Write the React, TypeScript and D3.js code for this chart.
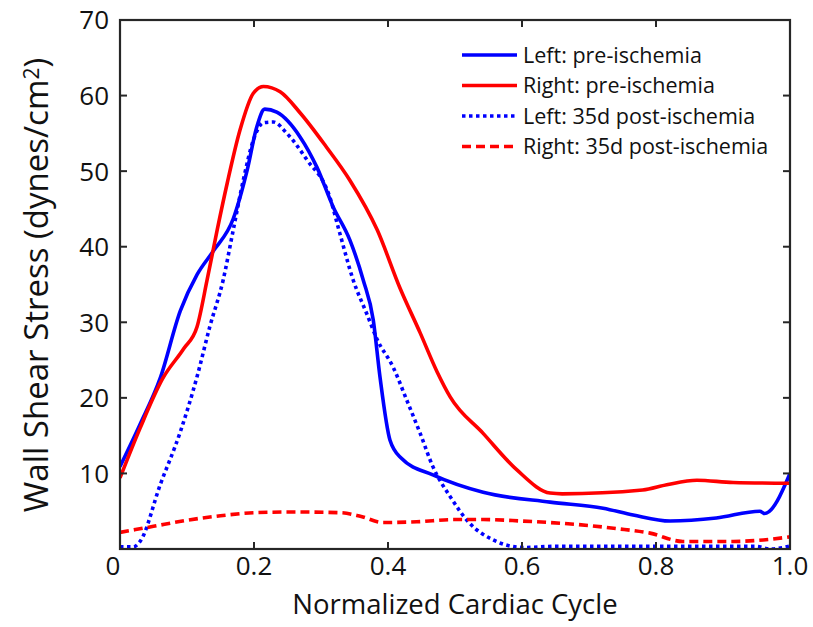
import { useRef, useEffect } from "react";
import * as d3 from "d3";

// values: [normalized cycle, wall shear stress]
const leftPre: [number, number][] = [
  [0, 10.9], [0.03, 16.5], [0.06, 22.6], [0.09, 31.5], [0.115, 36.3], [0.139, 39.4],
  [0.169, 43.7], [0.19, 50.2], [0.204, 55.8], [0.216, 58.2], [0.234, 57.8],
  [0.269, 54.5], [0.294, 50.5], [0.318, 45.3], [0.343, 40.9], [0.363, 35.6],
  [0.378, 30.3], [0.388, 22.8], [0.403, 14.4], [0.42, 12.0], [0.467, 9.8],
  [0.542, 7.5], [0.642, 6.2], [0.721, 5.4], [0.766, 4.5], [0.821, 3.7],
  [0.89, 4.1], [0.955, 5.0], [0.962, 4.7], [1.0, 10],
];

const rightPre: [number, number][] = [
  [0, 9.4], [0.03, 16], [0.064, 22.6], [0.095, 26.5], [0.115, 29.4], [0.13, 35.6],
  [0.145, 42.2], [0.16, 48.4], [0.179, 55.4], [0.199, 60.3], [0.214, 61.2],
  [0.239, 60.5], [0.269, 57.7], [0.308, 53.2], [0.343, 48.8], [0.384, 42.2],
  [0.418, 34.5], [0.448, 28.6], [0.473, 23.5], [0.493, 20.1], [0.542, 15.3],
  [0.592, 10.5], [0.642, 7.4], [0.66, 7.3], [0.78, 7.8], [0.816, 8.5],
  [0.861, 9.1], [0.915, 8.8], [1.0, 8.7],
];

const leftPost: [number, number][] = [
  [0, 0.3], [0.02, 0.3], [0.03, 1.0], [0.06, 8.5], [0.09, 15.5], [0.115, 22.8],
  [0.134, 29.4], [0.154, 35.6], [0.169, 42.2], [0.184, 48.8], [0.199, 54.1],
  [0.214, 56.4], [0.229, 56.5], [0.249, 55], [0.279, 51.5], [0.313, 46.6],
  [0.328, 41.8], [0.348, 35.6], [0.368, 31.2], [0.384, 27.7], [0.408, 24],
  [0.428, 19.7], [0.448, 15.3], [0.467, 10.9], [0.493, 6.9], [0.522, 3.4],
  [0.557, 1.2], [0.602, 0.2], [0.65, 0.35], [0.95, 0.35], [0.97, 0.0], [1.0, 0.4],
];

const rightPost: [number, number][] = [
  [0, 2.2], [0.05, 3.0], [0.1, 3.8], [0.15, 4.4], [0.2, 4.8], [0.26, 4.9],
  [0.33, 4.8], [0.36, 4.3], [0.393, 3.5], [0.443, 3.6], [0.5, 3.9], [0.542, 3.9],
  [0.6, 3.7], [0.642, 3.5], [0.7, 3.1], [0.741, 2.7], [0.791, 2.1], [0.84, 1.0],
  [0.915, 1.0], [0.96, 1.2], [1.0, 1.6],
];

const xTicks = [0, 0.2, 0.4, 0.6, 0.8, 1.0];
const xTickLabels = ["0", "0.2", "0.4", "0.6", "0.8", "1.0"];
const yTicks = [10, 20, 30, 40, 50, 60, 70];

const series = [
  { name: "Left: pre-ischemia", data: leftPre, color: "#0000ff", dash: null },
  { name: "Right: pre-ischemia", data: rightPre, color: "#ff0000", dash: null },
  { name: "Left: 35d post-ischemia", data: leftPost, color: "#0000ff", dash: "3.5,3.5" },
  { name: "Right: 35d post-ischemia", data: rightPost, color: "#ff0000", dash: "9,5" },
];

const W = 813, H = 627;
const margin = { top: 20, right: 23, bottom: 78, left: 120 };
const FONT = "'Open Sans', sans-serif";

export default function App() {
  const ref = useRef<SVGSVGElement>(null);

  useEffect(() => {
    const svg = d3.select(ref.current);
    svg.selectAll("*").remove();

    const width = W - margin.left - margin.right;
    const height = H - margin.top - margin.bottom;

    const x = d3.scaleLinear().domain([0, 1]).range([0, width]);
    const y = d3.scaleLinear().domain([0, 70]).range([height, 0]);

    const g = svg.append("g").attr("transform", `translate(${margin.left},${margin.top})`);

    // clip so lines stay in the box
    svg.append("defs").append("clipPath").attr("id", "plotclip")
      .append("rect").attr("x", 0).attr("y", -2).attr("width", width).attr("height", height + 2);

    const line = d3.line<[number, number]>()
      .x((d) => x(d[0]))
      .y((d) => y(d[1]))
      .curve(d3.curveMonotoneX);

    const plot = g.append("g").attr("clip-path", "url(#plotclip)");
    series.forEach((s) => {
      plot.append("path")
        .datum(s.data)
        .attr("fill", "none")
        .attr("stroke", s.color)
        .attr("stroke-width", 3.6)
        .attr("stroke-dasharray", s.dash)
        .attr("stroke-linejoin", "round")
        .attr("d", line);
    });

    const axisColor = "#262626";

    // box
    g.append("rect")
      .attr("width", width)
      .attr("height", height)
      .attr("fill", "none")
      .attr("stroke", axisColor)
      .attr("stroke-width", 2.2);

    // ticks inside (bottom/top, left/right)
    const tickLen = 7;
    xTicks.slice(1, -1).forEach((t) => {
      g.append("line").attr("x1", x(t)).attr("x2", x(t)).attr("y1", height).attr("y2", height - tickLen)
        .attr("stroke", axisColor).attr("stroke-width", 2);
      g.append("line").attr("x1", x(t)).attr("x2", x(t)).attr("y1", 0).attr("y2", tickLen)
        .attr("stroke", axisColor).attr("stroke-width", 2);
    });
    yTicks.slice(0, -1).forEach((t) => {
      g.append("line").attr("x1", 0).attr("x2", tickLen).attr("y1", y(t)).attr("y2", y(t))
        .attr("stroke", axisColor).attr("stroke-width", 2);
      g.append("line").attr("x1", width).attr("x2", width - tickLen).attr("y1", y(t)).attr("y2", y(t))
        .attr("stroke", axisColor).attr("stroke-width", 2);
    });

    // tick labels
    g.selectAll(".xlab").data(xTicks).enter().append("text")
      .attr("x", (d) => x(d) + (d === 0 ? -7 : 0))
      .attr("y", height + 26)
      .attr("text-anchor", "middle")
      .style("font-family", FONT)
      .style("font-size", "26px")
      .attr("fill", "#111")
      .text((d, i) => xTickLabels[i]);

    g.selectAll(".ylab").data(yTicks).enter().append("text")
      .attr("x", -11)
      .attr("y", (d) => y(d))
      .attr("dy", "0.36em")
      .attr("text-anchor", "end")
      .style("font-family", FONT)
      .style("font-size", "26px")
      .attr("fill", "#111")
      .text((d) => d);

    // axis titles
    svg.append("text")
      .attr("x", 455)
      .attr("y", 614)
      .attr("text-anchor", "middle")
      .style("font-family", FONT)
      .style("font-size", "27.5px")
      .attr("fill", "#111")
      .text("Normalized Cardiac Cycle");

    const yt = svg.append("text")
      .attr("transform", "translate(48,285) rotate(-90)")
      .attr("text-anchor", "middle")
      .style("font-family", FONT)
      .style("font-size", "33px")
      .attr("fill", "#111");
    yt.append("tspan").text("Wall Shear Stress (dynes/cm");
    yt.append("tspan").attr("dy", "-0.45em").style("font-size", "21px").text("2");
    yt.append("tspan").attr("dy", "0.3em").text(")");

    // legend
    const lg = svg.append("g").attr("transform", "translate(462,55)");
    series.forEach((s, i) => {
      const row = lg.append("g").attr("transform", `translate(0,${i * 30.5})`);
      row.append("line").attr("x1", 0).attr("x2", 55).attr("y1", 0).attr("y2", 0)
        .attr("stroke", s.color).attr("stroke-width", 3.6)
        .attr("stroke-dasharray", s.dash);
      row.append("text").attr("x", 61).attr("y", 0).attr("dy", "0.36em")
        .style("font-family", FONT).style("font-size", "21.5px").attr("fill", "#111")
        .text(s.name);
    });
  }, []);

  return (
    <svg
      ref={ref}
      width={W}
      height={H}
      style={{ position: "absolute", left: 0, top: 0, background: "#fff" }}
    />
  );
}
